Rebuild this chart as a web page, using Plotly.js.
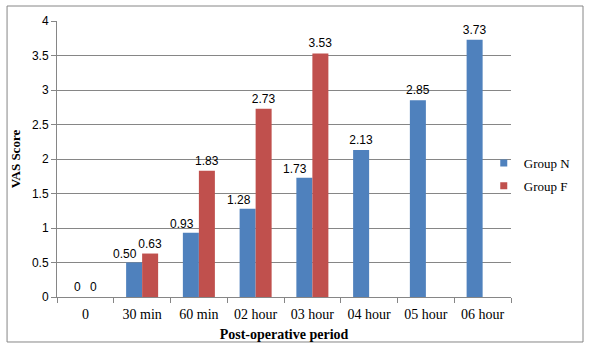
<!DOCTYPE html>
<html>
<head>
<meta charset="utf-8">
<script src="https://cdn.plot.ly/plotly-3.0.1.min.js"></script>
<style>html,body{margin:0;padding:0;background:#fff;}#chart{width:598px;height:357px;}</style>
</head>
<body>
<div id="chart"></div>
<script>
const categories = ['0', '30 min', '60 min', '02 hour', '03 hour', '04 hour', '05 hour', '06 hour'];
const groupN = [0, 0.50, 0.93, 1.28, 1.73, 2.13, 2.85, 3.73];
const groupF = [0, 0.63, 1.83, 2.73, 3.53, null, null, null];
const labelsN = ['0', '0.50', '0.93', '1.28', '1.73', '2.13', '2.85', '3.73'];
const labelsF = ['0', '0.63', '1.83', '2.73', '3.53', '', '', ''];
const yTicks = [0, 0.5, 1, 1.5, 2, 2.5, 3, 3.5, 4];

const COLOR_N = '#4F81BD', COLOR_F = '#C0504D';
const numFont = {family: 'Liberation Sans, Arial, sans-serif', size: 12, color: '#000'};
const serif = 'Liberation Serif, DejaVu Serif, serif';

// Group N labels that sit next to a taller Group F bar are pushed left (as in the original)
const pushLeft = groupN.map((v, i) => groupF[i] != null && groupF[i] > v);
const barTextN = labelsN.map((t, i) => pushLeft[i] ? '' : t);

const annotations = [];
categories.forEach((c, i) => {
  if (pushLeft[i]) {
    annotations.push({x: c, y: groupN[i], xref: 'x', yref: 'y', text: labelsN[i],
      showarrow: false, xanchor: 'right', yanchor: 'bottom', xshift: -3, yshift: 0,
      font: numFont});
  }
});

const traces = [
  {type: 'bar', name: 'Group N', showlegend: false, x: categories, y: groupN, text: barTextN,
   texttemplate: '%{text}', textposition: 'outside', cliponaxis: false, constraintext: 'none',
   textfont: numFont, marker: {color: COLOR_N}, hoverinfo: 'none'},
  {type: 'bar', name: 'Group F', showlegend: false, x: categories, y: groupF, text: labelsF,
   texttemplate: '%{text}', textposition: 'outside', cliponaxis: false, constraintext: 'none',
   textfont: numFont, marker: {color: COLOR_F}, hoverinfo: 'none'},
  {type: 'scatter', mode: 'markers', name: 'Group N', legendgroup: 'n', x: [null], y: [null],
   marker: {symbol: 'square', size: 7, color: COLOR_N}, hoverinfo: 'none'},
  {type: 'scatter', mode: 'markers', name: 'Group F', legendgroup: 'f', x: [null], y: [null],
   marker: {symbol: 'square', size: 7, color: COLOR_F}, hoverinfo: 'none'}
];

const layout = {
  width: 598, height: 357,
  margin: {l: 57, r: 87, t: 21, b: 60, autoexpand: false},
  paper_bgcolor: '#fff', plot_bgcolor: '#fff',
  barmode: 'group', bargap: 0.436, bargroupgap: 0,
  showlegend: true,
  legend: {x: 0.94, xanchor: 'left', y: 0.444, yanchor: 'middle',
    font: {family: serif, size: 13, color: '#000'}, itemwidth: 30,
    tracegroupgap: 3, bgcolor: 'rgba(0,0,0,0)'},
  annotations: annotations,
  xaxis: {
    type: 'category', tickson: 'boundaries', ticks: 'outside', ticklen: 5,
    tickcolor: '#868686', showline: true, linecolor: '#868686', linewidth: 1,
    showgrid: false, tickfont: {family: serif, size: 14, color: '#000'},
    ticklabelstandoff: 4,
    title: {text: 'Post-operative period', font: {family: serif, size: 14, color: '#000', weight: 'bold'}, standoff: 8},
    fixedrange: true, automargin: false
  },
  yaxis: {
    range: [0, 4], tickvals: yTicks, ticktext: yTicks.map(String),
    ticks: 'outside', ticklen: 5, tickcolor: '#868686',
    showline: true, linecolor: '#868686', linewidth: 1,
    showgrid: true, gridcolor: '#868686', gridwidth: 1, zeroline: false,
    tickfont: numFont,
    title: {text: 'VAS Score', font: {family: serif, size: 13, color: '#000', weight: 'bold'}, standoff: 8},
    fixedrange: true, automargin: false
  },
  shapes: [{type: 'rect', xref: 'paper', yref: 'paper',
    x0: -0.110, x1: 1.1586, y0: -0.163, y1: 1.0543,
    line: {color: '#868686', width: 1}, fillcolor: 'rgba(0,0,0,0)', layer: 'below'}]
};

Plotly.newPlot('chart', traces, layout, {displayModeBar: false, staticPlot: true});
</script>
</body>
</html>
